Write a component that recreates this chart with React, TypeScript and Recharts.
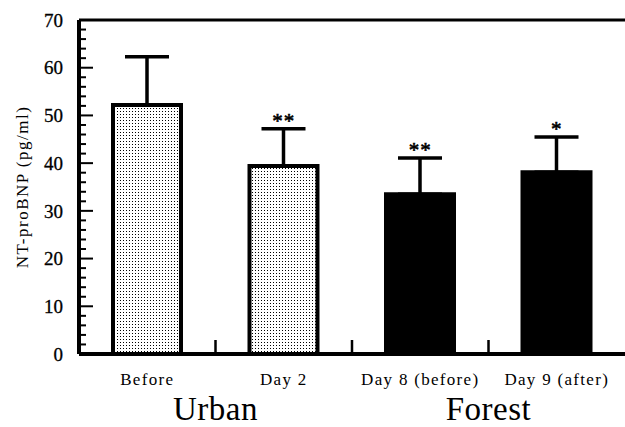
import React from 'react';
import { ComposedChart, Bar, XAxis, YAxis, ErrorBar, Cell, Line, LabelList, ReferenceLine } from 'recharts';

const categories = ['Before', 'Day 2', 'Day 8 (before)', 'Day 9 (after)'];
const means = [52.2, 39.4, 33.5, 38.1];
const sds = [10.1, 7.8, 7.6, 7.4];
const marks = ['', '**', '**', '*'];
const groups = ['Urban', 'Forest'];
const groupOf = [0, 0, 1, 1];
const yTicks = [0, 2, 4, 6, 8, 10, 12, 14, 16, 18, 20, 22, 24, 26, 28, 30, 32, 34, 36, 38, 40, 42, 44, 46, 48, 50, 52, 54, 56, 58, 60, 62, 64, 66, 68, 70];
const yLabels = [0, 10, 20, 30, 40, 50, 60, 70];

const table = categories.map((c, i) => ({
  name: c,
  mean: means[i],
  err: [0, sds[i]],
  top: means[i] + sds[i],
  mark: marks[i],
  group: groupOf[i],
}));

const FONT = '"Liberation Serif", "Times New Roman", serif';

function YTick(props: any) {
  const { x, y, payload } = props;
  const major = yLabels.includes(payload.value);
  return (
    <g>
      <line x1={x} x2={x + (major ? 14 : 7)} y1={y} y2={y} stroke="#000" strokeWidth={2} />
      {major && (
        <text x={x - 16} y={y} dy="0.35em" textAnchor="end" fontFamily={FONT} fontSize={19} fill="#000" stroke="#000" strokeWidth={0.3}>
          {payload.value}
        </text>
      )}
    </g>
  );
}

function XTick(props: any) {
  const { x, y, payload, index } = props;
  const half =
    payload && typeof payload.offset === 'number' && payload.offset > 0
      ? payload.offset
      : props.width / props.visibleTicksCount / 2;
  const g = groupOf[index];
  const isLastOfGroup = index === groupOf.length - 1 || groupOf[index + 1] !== g;
  const count = groupOf.filter((v) => v === g).length;
  return (
    <g>
      {index > 0 && <line x1={x - half} x2={x - half} y1={y} y2={y - 14} stroke="#000" strokeWidth={2.5} />}
      <text x={x} y={y + 31} textAnchor="middle" fontFamily={FONT} fontSize={17} letterSpacing={1.3} fill="#000">
        {payload.value}
      </text>
      {isLastOfGroup && (
        <text
          x={x - (count - 1) * half}
          y={y + 66}
          textAnchor="middle"
          fontFamily={FONT}
          fontSize={33}
          letterSpacing={0.5}
          fill="#000"
        >
          {groups[g]}
        </text>
      )}
    </g>
  );
}

function SigLabel(props: any) {
  const { x, y, value } = props;
  if (!value) return null;
  return (
    <text x={x} y={y - 1} textAnchor="middle" fontFamily={FONT} fontSize={21} letterSpacing={1} fill="#000" stroke="#000" strokeWidth={0.6}>
      {value}
    </text>
  );
}

export default function App() {
  return (
    <div style={{ position: 'absolute', left: 0, top: 0, width: 625, height: 427, overflow: 'hidden', background: '#fff' }}>
      <ComposedChart width={625} height={427} data={table} margin={{ top: 20, right: 0, bottom: 0, left: 0 }}>
        <defs>
          <pattern id="dots" width="3" height="3" patternUnits="userSpaceOnUse">
            <rect width="3" height="3" fill="#fff" />
            <rect width="1" height="1" fill="#000" />
          </pattern>
        </defs>
        <XAxis
          dataKey="name"
          height={73}
          interval={0}
          tickSize={0}
          tickMargin={0}
          tickLine={false}
          axisLine={{ stroke: '#000', strokeWidth: 4 }}
          tick={<XTick />}
        />
        <YAxis
          width={79}
          domain={[0, 70]}
          ticks={yTicks}
          interval={0}
          tickSize={0}
          tickMargin={0}
          tickLine={false}
          axisLine={{ stroke: '#000', strokeWidth: 4 }}
          tick={<YTick />}
          label={{
            value: 'NT-proBNP (pg/ml)',
            angle: -90,
            position: 'insideLeft',
            offset: 22,
            style: { textAnchor: 'middle', fontFamily: FONT, fontSize: 17, letterSpacing: 1.5, fill: '#000' },
          }}
        />
        <ReferenceLine y={70} stroke="#000" strokeWidth={3} />
        <Bar dataKey="mean" barSize={68} stroke="#000" strokeWidth={4} isAnimationActive={false}>
          {table.map((d, i) => (
            <Cell key={i} fill={d.group === 0 ? 'url(#dots)' : '#000'} />
          ))}
          <ErrorBar dataKey="err" width={22} strokeWidth={3.5} stroke="#000" direction="y" />
        </Bar>
        <Line
          dataKey="top"
          stroke="none"
          dot={false}
          activeDot={false}
          legendType="none"
          isAnimationActive={false}
        >
          <LabelList dataKey="mark" content={<SigLabel />} />
        </Line>
      </ComposedChart>
    </div>
  );
}
